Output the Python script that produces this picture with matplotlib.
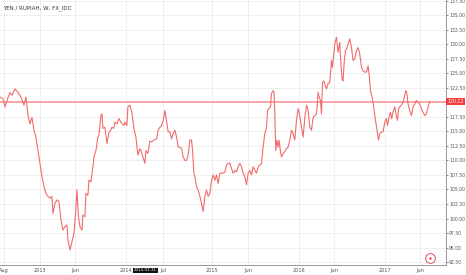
import matplotlib
matplotlib.use("Agg")
import matplotlib.pyplot as plt

# --------- DATA ---------
# weekly YEN / RUPIAH closes, x given as decimal years
years = [
    2012.536, 2012.571, 2012.594, 2012.617, 2012.652, 2012.675, 2012.710, 2012.745,
    2012.779, 2012.814, 2012.837, 2012.861, 2012.884, 2012.907, 2012.930, 2012.953,
    2012.977, 2013.000, 2013.023, 2013.046, 2013.069, 2013.093, 2013.116, 2013.139,
    2013.150, 2013.174, 2013.197, 2013.220, 2013.243, 2013.266, 2013.290, 2013.313,
    2013.324, 2013.348, 2013.371, 2013.394, 2013.411, 2013.429, 2013.446, 2013.464,
    2013.487, 2013.498, 2013.521, 2013.533, 2013.556, 2013.568, 2013.591, 2013.614,
    2013.626, 2013.649, 2013.672, 2013.684, 2013.707, 2013.719, 2013.730, 2013.753,
    2013.777, 2013.800, 2013.823, 2013.835, 2013.858, 2013.869, 2013.893, 2013.916,
    2013.927, 2013.951, 2013.974, 2013.985, 2014.008, 2014.020, 2014.043, 2014.066,
    2014.090, 2014.113, 2014.136, 2014.159, 2014.171, 2014.194, 2014.217, 2014.229,
    2014.252, 2014.275, 2014.298, 2014.321, 2014.353, 2014.371, 2014.391, 2014.411,
    2014.430, 2014.449, 2014.469, 2014.487, 2014.507, 2014.527, 2014.545, 2014.565,
    2014.585, 2014.603, 2014.623, 2014.643, 2014.661, 2014.681, 2014.700, 2014.719,
    2014.739, 2014.758, 2014.770, 2014.785, 2014.797, 2014.816, 2014.835, 2014.855,
    2014.874, 2014.893, 2014.913, 2014.932, 2014.951, 2014.971, 2014.990, 2015.009,
    2015.029, 2015.048, 2015.067, 2015.087, 2015.106, 2015.125, 2015.145, 2015.164,
    2015.183, 2015.203, 2015.222, 2015.241, 2015.261, 2015.280, 2015.299, 2015.319,
    2015.338, 2015.357, 2015.377, 2015.396, 2015.415, 2015.435, 2015.454, 2015.473,
    2015.493, 2015.512, 2015.531, 2015.550, 2015.570, 2015.589, 2015.608, 2015.628,
    2015.640, 2015.655, 2015.674, 2015.686, 2015.705, 2015.716, 2015.724, 2015.736,
    2015.748, 2015.763, 2015.774, 2015.790, 2015.802, 2015.821, 2015.840, 2015.860,
    2015.879, 2015.898, 2015.918, 2015.937, 2015.956, 2015.976, 2015.995, 2016.014,
    2016.034, 2016.053, 2016.073, 2016.092, 2016.111, 2016.131, 2016.150, 2016.169,
    2016.189, 2016.208, 2016.227, 2016.238, 2016.254, 2016.266, 2016.277, 2016.292,
    2016.307, 2016.324, 2016.342, 2016.362, 2016.382, 2016.393, 2016.408, 2016.420,
    2016.440, 2016.458, 2016.478, 2016.489, 2016.505, 2016.516, 2016.528, 2016.544,
    2016.563, 2016.579, 2016.594, 2016.614, 2016.632, 2016.652, 2016.672, 2016.690,
    2016.710, 2016.730, 2016.748, 2016.768, 2016.788, 2016.806, 2016.818, 2016.834,
    2016.853, 2016.872, 2016.892, 2016.911, 2016.927, 2016.942, 2016.962, 2016.980,
    2017.000, 2017.020, 2017.031, 2017.050, 2017.066, 2017.081, 2017.096, 2017.116,
    2017.135, 2017.147, 2017.162, 2017.174, 2017.193, 2017.212, 2017.232, 2017.243,
    2017.255, 2017.270, 2017.290, 2017.309, 2017.328, 2017.348, 2017.367, 2017.386,
    2017.406, 2017.425, 2017.444, 2017.464, 2017.483, 2017.502, 2017.522,
]
rates = [
    120.9, 120.6, 119.2, 120.3, 121.7, 121.2, 122.3, 121.7,
    120.9, 119.5, 120.9, 117.7, 116.3, 117.4, 115.2, 114.0,
    111.7, 109.5, 107.2, 105.5, 104.3, 103.8, 103.5, 103.8,
    100.9, 102.6, 103.2, 102.9, 99.8, 98.0, 98.6, 98.9,
    96.3, 94.6, 96.0, 97.5, 100.5, 104.9, 100.3, 98.6,
    98.0, 100.6, 100.3, 104.3, 104.0, 106.6, 106.3, 108.9,
    110.6, 111.7, 114.0, 114.3, 117.7, 118.0, 115.5, 115.7,
    112.9, 114.9, 115.2, 115.7, 115.5, 116.6, 116.3, 117.2,
    116.9, 116.3, 116.0, 116.6, 116.0, 119.2, 119.5, 118.3,
    115.5, 114.0, 110.9, 112.0, 111.7, 110.6, 109.5, 111.7,
    111.2, 113.3, 113.2, 113.5, 113.7, 115.2, 115.7, 116.0,
    116.9, 118.6, 116.6, 114.9, 114.9, 113.7, 114.6, 115.2,
    114.0, 112.3, 112.3, 112.0, 110.6, 110.0, 110.0, 110.9,
    113.5, 113.5, 111.7, 107.8, 107.2, 105.5, 104.9, 103.8,
    102.6, 101.2, 103.8, 104.9, 103.8, 104.3, 106.6, 107.5,
    106.6, 107.5, 106.0, 107.8, 107.8, 107.8, 108.0, 109.2,
    109.5, 109.5, 108.6, 107.8, 108.3, 108.0, 108.9, 109.5,
    108.9, 107.8, 107.2, 105.8, 107.8, 108.3, 107.5, 108.9,
    108.3, 107.8, 108.9, 109.2, 109.5, 112.3, 114.6, 115.7,
    118.6, 118.9, 119.2, 121.5, 122.0, 121.7, 118.0, 111.7,
    113.5, 112.3, 113.5, 111.5, 110.6, 111.2, 111.5, 112.0,
    112.3, 113.5, 115.2, 114.6, 113.5, 116.9, 118.9, 117.7,
    115.7, 114.0, 117.4, 119.5, 118.6, 115.7, 115.2, 117.4,
    117.7, 118.0, 121.7, 120.9, 120.3, 118.0, 123.4, 123.7,
    122.9, 122.3, 123.2, 123.4, 127.2, 126.0, 128.3, 130.0,
    131.2, 128.6, 130.3, 127.2, 124.0, 123.7, 126.6, 128.9,
    129.4, 130.3, 130.9, 129.4, 127.2, 127.5, 128.9, 129.4,
    128.3, 126.0, 125.4, 125.2, 125.2, 126.3, 124.9, 122.0,
    120.9, 119.2, 116.9, 115.2, 113.5, 114.6, 114.9, 114.9,
    116.6, 117.2, 116.0, 117.4, 118.3, 117.2, 118.3, 119.2,
    117.7, 116.9, 118.9, 119.2, 119.5, 120.0, 121.2, 122.0,
    121.7, 119.7, 118.6, 117.7, 119.2, 119.7, 120.3, 120.0,
    119.7, 118.9, 118.3, 117.7, 118.0, 119.2, 120.12,
]

last_price = 120.12
title = "YEN / RUPIAH, W, FX_IDC"

x_tick_pos = [2012.58, 2013.0, 2013.41, 2014.0, 2014.43, 2015.0, 2015.41,
              2016.0, 2016.41, 2017.0, 2017.41]
x_tick_labels = ["Aug", "2013", "Jun", "2014", "Jul", "2015", "Jun",
                 "2016", "Jun", "2017", "Jun"]
y_ticks = [92.5 + 2.5 * i for i in range(19)]
cursor_year = 2014.225
cursor_label = "2014-03-31"
# -------------------------------------------------

LINE_RED = "#f26b6b"
GRID = "#ececec"
TEXT = "#555555"

fig = plt.figure(figsize=(4.66, 2.75), dpi=100)
ax = fig.add_axes([0.0, 0.0364, 0.957, 0.9636])

ax.plot(years, rates, color=LINE_RED, lw=0.8, zorder=3)
ax.axhline(last_price, color="#f4a0a0", lw=1.3, zorder=2)

ax.set_xlim(2012.536, 2017.71)
ax.set_ylim(92.0, 137.6)

ax.set_xticks(x_tick_pos)
ax.set_xticklabels(x_tick_labels)
ax.set_yticks(y_ticks)
# the 120.00 label sits under the last-price badge, so it is not shown
ax.set_yticklabels(["" if abs(v - 120.0) < 1e-9 else f"{v:.2f}" for v in y_ticks])
ax.yaxis.tick_right()

ax.grid(True, color=GRID, lw=0.6)
ax.set_axisbelow(True)
ax.tick_params(axis="y", labelsize=3.3, colors=TEXT, length=1.5, width=0.5, pad=0.8)
ax.tick_params(axis="x", labelsize=3.6, colors=TEXT, length=0, pad=2)

for side in ["top", "left"]:
    ax.spines[side].set_visible(False)
for side in ["right", "bottom"]:
    ax.spines[side].set_color("#888888")
    ax.spines[side].set_linewidth(0.6)

# title
ax.text(0.006, 0.98, title, transform=ax.transAxes, fontsize=4.0,
        color="#333333", va="top", ha="left")

# last price badge on the price scale
ax.text(1.004, last_price, f"{last_price:.2f}", transform=ax.get_yaxis_transform(),
        fontsize=3.3, color="white", va="center", ha="left", zorder=10,
        clip_on=False,
        bbox=dict(boxstyle="square,pad=0.3", fc="#f23b3b", ec="none"))

# crosshair date badge on the time scale
ax.text(cursor_year, -0.013, cursor_label, transform=ax.get_xaxis_transform(),
        fontsize=2.9, color="white", va="top", ha="center", zorder=10,
        clip_on=False,
        bbox=dict(boxstyle="square,pad=0.2", fc="#111111", ec="none"))

# little scroll-to-end button at bottom right
ax.plot([0.964], [0.027], transform=ax.transAxes, marker="o", ms=7,
        mfc="white", mec="#e04a5a", mew=0.7, zorder=10, clip_on=False)
ax.plot([0.964], [0.027], transform=ax.transAxes, marker="o", ms=1.8,
        mfc="#e04a5a", mec="none", zorder=11, clip_on=False)

fig.savefig("out.png", dpi=100, facecolor="white")
